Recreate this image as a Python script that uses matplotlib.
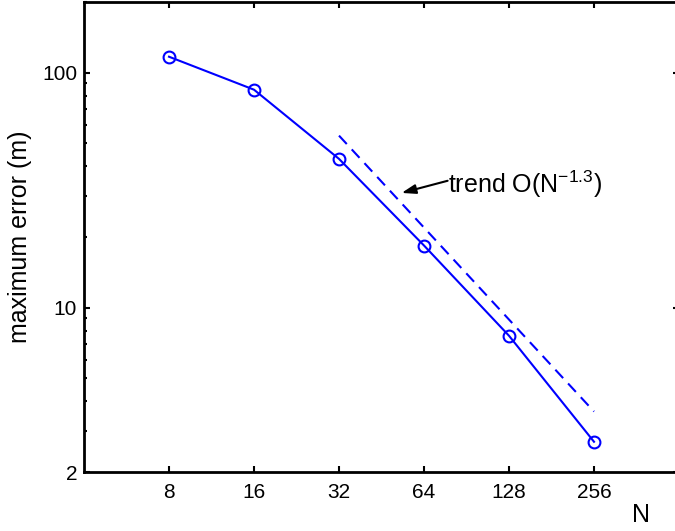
import numpy as np
import matplotlib
matplotlib.use("Agg")
import matplotlib.pyplot as plt
from matplotlib.ticker import FixedLocator, LogLocator, NullFormatter

plt.rcParams['font.family'] = ['Liberation Sans', 'DejaVu Sans']
plt.rcParams['mathtext.fontset'] = 'custom'
plt.rcParams['mathtext.rm'] = 'Liberation Sans'
plt.rcParams['mathtext.it'] = 'Liberation Sans'

# data
N = [8, 16, 32, 64, 128, 256]
max_err = [117, 84.7, 43, 18.4, 7.6, 2.69]
xtick_labels = ['8', '16', '32', '64', '128', '256']
ytick_vals = [2, 10, 100]
ytick_labels = ['2', '10', '100']

# trend line O(N^-1.3) from N=32 to 256
trend_N = [32, 256]
trend_start = 54
trend_slope = -1.3

blue = '#0000ff'

fig = plt.figure(figsize=(6.75, 5.31), dpi=100)
ax = fig.add_axes([84/675, 1 - 472/531, (679 - 84)/675, (472 - 2)/531])

ax.plot(N, max_err, '-o', color=blue, lw=1.5, markersize=8.5,
        markerfacecolor='none', markeredgewidth=1.5)
tn = np.array(trend_N, dtype=float)
ax.plot(tn, trend_start * (tn / trend_N[0]) ** trend_slope, color=blue,
        lw=1.5, linestyle=(0, (5.5, 3.5)))

ax.set_xscale('log', base=2)
ax.set_yscale('log')
ax.set_xlim(4, 512)
ax.set_ylim(2, 200)

ax.xaxis.set_major_locator(FixedLocator(N))
ax.set_xticklabels(xtick_labels)
ax.xaxis.set_minor_locator(FixedLocator([]))
ax.yaxis.set_major_locator(FixedLocator(ytick_vals))
ax.set_yticklabels(ytick_labels)
ax.yaxis.set_minor_locator(LogLocator(base=10, subs=np.arange(2, 10)))
ax.yaxis.set_minor_formatter(NullFormatter())

ax.tick_params(which='both', direction='in', top=True, right=True,
               labelsize=15, width=1.5)
ax.tick_params(which='major', length=4.5)
ax.tick_params(which='minor', length=2.5)
ax.tick_params(axis='x', which='major', pad=8)
ax.tick_params(axis='y', which='major', pad=5)
for s in ax.spines.values():
    s.set_linewidth(2)

ax.set_ylabel('maximum error (m)', fontsize=18)
ax.yaxis.set_label_coords((20.5 - 84)/595, 0.5)
ax.yaxis.label.set_va('center')
ax.set_xlabel('N', fontsize=18)
ax.xaxis.set_label_coords((641 - 84)/595, (472 - 515)/470)
ax.xaxis.label.set_va('center')

ax.text(77.6, 30.8, r'trend O(N$^{-1.3}$)', fontsize=18, va='baseline', ha='left')
ax.annotate('', xy=(53.3, 30.8), xytext=(77.6, 34.7),
            arrowprops=dict(arrowstyle='-|>,head_length=0.6,head_width=0.2',
                            color='black', lw=1.5, mutation_scale=14,
                            shrinkA=0, shrinkB=0))

fig.savefig('out.png', dpi=100)
